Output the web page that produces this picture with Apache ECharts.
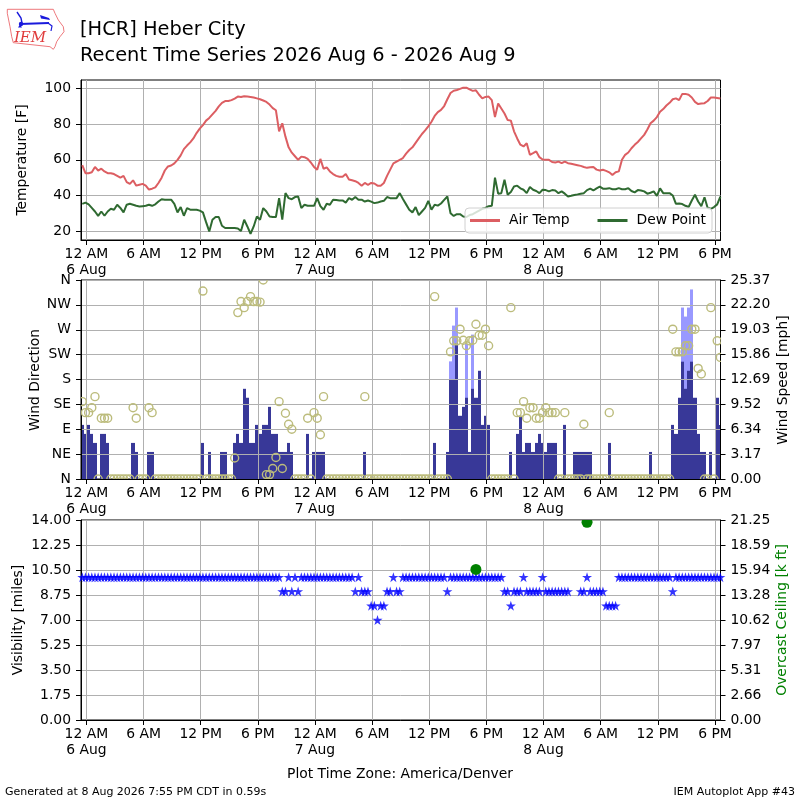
<!DOCTYPE html>
<html><head><meta charset="utf-8">
<script src="https://cdn.jsdelivr.net/npm/echarts@6.0.0/dist/echarts.min.js"></script>
<style>html,body{margin:0;padding:0;background:#fff}#c{width:800px;height:800px}</style>
</head><body><div id="c"></div>
<script>
// ---- observation timing (hours relative to 6 Aug 00:00 America/Denver), 20-minute reports ----
const OBS_START_H = -0.4333;
const OBS_STEP_H = 1/3;

const AIR_TEMP_F = [57,52.5,52.5,53,56,54,55,53.5,52.5,52.5,
52,51,50,51,47.5,46.5,48.5,45.5,46,46.5,
45.5,43.3,43.8,44.5,47,50,54,56.3,56.8,58,
60,62.5,66,68,69.8,72,75,77.5,79.5,82,
83.5,85.5,87.5,90,92,93,93,93.5,94.4,95.5,
95.3,95.7,95.5,95.3,95,94.5,94,93.3,92.5,91,
89,87.8,76,80.5,73,67,64,62,60,61.8,
61.5,60.5,58.5,56,54.5,60.5,55,55.8,53.5,52,
51,50.5,50.5,52,49,48.5,48,47,45.5,47,
46,47,46.7,45.5,45.5,47,51,54.5,58,59,
60,61,63.5,65.5,67,69.5,72,74.5,76.5,78.8,
81.4,84.6,86.8,88,90.2,94,97.5,98.8,99.2,99.8,
100.5,100.5,99.5,98.7,99,96.5,94.5,95.3,95.5,93.5,
84,91.6,88.8,86,82.3,82,76,72,68.5,67.5,
69.3,62.8,63.7,64.7,61.5,60.2,60,60,58.8,58.5,
59,58.1,59,58.1,57.8,57.4,57,56.6,56,55.5,
55.8,56,54.5,54,54.4,53.8,53,51.5,53,53.5,
60,62.8,64.1,66.5,68.4,70,72,74,77,80.5,
82,84,87,88.5,90.5,92,94,94.5,93.5,97,
97,96.5,95,92.5,91.3,91.6,91.8,93,95,95,
94.7,94.4];

const DEW_POINT_F = [35.3,36,35,33,31,28.5,31,28.6,31,32.5,
32,34.8,33,30.5,34.8,35.3,34.8,34.2,33.8,34,
34.2,34.8,34.2,35,36.6,37.9,37.6,37.6,37.6,35.3,
30.5,33.5,28.6,32.9,32,32,32,31.5,30.5,25,
19.8,26.4,27.9,27.9,23,21.7,21.7,21.7,21.7,21.5,
20,26.4,22.6,18.5,22.6,28.2,26.4,32.9,31,28.2,
27.9,27.9,38.5,26.4,41.3,38.5,37.9,39.1,39.4,32.9,
34.8,34.2,34.2,34.2,38.5,34,32,35.3,34.8,37.6,
37.4,37.2,37.2,36,38.5,37.6,39.1,37.6,37.6,36.6,
37.2,36.5,35.7,36,36.6,37,39.1,38.5,38.5,38.5,
41.3,38,35,32,30.5,33.5,29,31,33,37,
32,34.8,34.3,35.5,37.5,39.4,30,28.5,29.5,29.5,
28.2,27.9,29,29.5,30.5,31.5,32.5,33,34,34.2,
50,41,41.3,48.8,40.4,42,45,45.5,44,43.2,
41.3,44.7,43.2,42.5,41.3,43.2,43,42.3,43,42.8,
41.3,42.3,41,39.4,39.8,40.3,40.6,41,41.3,43,
43.8,42.8,44,45,43.8,43.8,44.1,43.5,43.5,44.1,
43.5,43.5,44.1,42.5,41.7,43,42.8,42.3,41,41.5,
42.3,39.8,44,41.3,41.3,41.3,40,35.3,35.5,35.2,
34.2,33.5,37.2,40.4,36.6,34,39,33,32.5,33.5,
35,39.4];

const WIND_MPH = [6.9,5.75,6.9,5.75,4.6,0,5.75,5.75,4.6,0,
0,0,0,0,0,0,4.6,3.45,0,0,
0,3.45,3.45,0,0,0,0,0,0,0,
0,0,0,0,0,0,0,0,4.6,0,
3.45,0,0,0,3.45,3.45,0,0,4.6,5.75,
4.6,11.5,10.36,4.6,4.6,6.9,5.75,6.9,6.9,9.2,
5.75,5.75,3.45,3.45,3.45,4.6,3.45,0,0,0,
0,5.75,0,3.45,3.45,3.45,3.45,0,0,0,
0,0,0,0,0,0,0,0,0,3.45,
0,0,0,0,0,0,0,0,0,0,
0,0,0,0,0,0,0,0,0,0,
0,4.6,0,0,0,3.45,12.66,12.66,17.26,8.06,
9.2,10.36,3.45,11.5,10.36,13.8,6.9,8.06,6.9,0,
0,0,0,0,0,3.45,0,5.75,8.06,3.45,
4.6,4.6,3.45,4.6,5.75,4.6,3.45,4.6,4.6,4.6,
0,0,6.9,0,0,3.45,3.45,3.45,3.45,3.45,
3.45,0,0,0,0,0,4.6,0,0,0,
0,0,0,0,0,0,0,0,0,3.45,
0,0,0,0,0,0,6.9,5.75,10.36,14.96,
11.5,13.8,14.96,10.36,5.75,3.45,3.45,0,3.45,0,
10.36,6.9];

const WIND_DIR_DEG = [140,120,120,129,149,0,110,110,110,0,
0,0,0,0,0,0,129,110,0,0,
0,129,120,0,0,0,0,0,0,0,
0,0,0,0,0,0,0,0,340,0,
0,0,0,0,0,0,0,0,38,301,
321,310,321,330,321,321,320,360,8,8,
19,39,140,19,119,99,90,0,0,0,
0,110,0,120,110,80,149,0,0,0,
0,0,0,0,0,0,0,0,0,149,
0,0,0,0,0,0,0,0,0,0,
0,0,0,0,0,0,0,0,0,0,
0,330,0,0,0,0,230,250,250,271,
251,241,250,251,280,260,260,271,241,0,
0,0,0,0,0,310,0,120,120,140,
110,129,129,110,110,120,129,120,120,120,
0,0,120,0,0,0,0,0,99,0,
0,0,0,0,0,0,120,0,0,0,
0,0,0,0,0,0,0,0,0,0,
0,0,0,0,0,0,271,230,230,230,
241,241,271,271,200,190,0,0,310,0,
250,220];

const GUST_IDX = [116,117,118,121,123,189,190,191,192];
const GUST_MPH = [15.0,19.56,21.86,17.26,18.41,21.86,20.71,21.86,24.17];

const VIS_MILES = [10,10,10,10,10,10,10,10,10,10,
10,10,10,10,10,10,10,10,10,10,
10,10,10,10,10,10,10,10,10,10,
10,10,10,10,10,10,10,10,10,10,
10,10,10,10,10,10,10,10,10,10,
10,10,10,10,10,10,10,10,10,10,
10,10,10,9,9,10,9,10,9,10,
10,10,10,10,10,10,10,10,10,10,
10,10,10,10,10,10,9,10,9,9,
9,8,8,7,8,8,9,9,10,9,
9,10,10,10,10,10,10,10,10,10,
10,10,10,10,10,9,10,10,10,10,
10,10,10,10,10,10,10,10,10,10,
10,10,10,9,9,8,9,9,9,10,
9,9,9,9,9,10,9,9,9,9,
9,9,9,9,null,null,null,9,9,10,
9,9,9,9,9,8,8,8,8,10,
10,10,10,10,10,10,10,10,10,10,
10,10,10,10,10,10,9,10,10,10,
10,10,10,10,10,10,10,10,10,10,
10,10];

const CEIL_IDX = [124,159];
const CEIL_KFT = [16.0,21.0];

// ---- axes ----
const X_MIN_H = -0.567, X_MAX_H = 66.58;
const X_TICKS_H = [0,6,12,18,24,30,36,42,48,54,60,66];
const X_TICK_LABELS = ['12 AM\n6 Aug','6 AM','12 PM','6 PM','12 AM\n7 Aug','6 AM','12 PM','6 PM','12 AM\n8 Aug','6 AM','12 PM','6 PM'];
const TEMP_TICKS = [20,40,60,80,100];
const TEMP_TICK_LABELS = ['20','40','60','80','100'];
const DIR_TICKS = [0,45,90,135,180,225,270,315,360];
const DIR_TICK_LABELS = ['N','NE','E','SE','S','SW','W','NW','N'];
const SPEED_MAX = 25.3744;
const SPEED_TICKS = [0,3.1718,6.3436,9.5154,12.6872,15.859,19.0308,22.2026,25.3744];
const SPEED_TICK_LABELS = ['0.00','3.17','6.34','9.52','12.69','15.86','19.03','22.20','25.37'];
const VIS_TICKS = [0,1.75,3.5,5.25,7,8.75,10.5,12.25,14];
const VIS_TICK_LABELS = ['0.00','1.75','3.50','5.25','7.00','8.75','10.50','12.25','14.00'];
const CEIL_MAX = 21.25;
const CEIL_TICKS = [0,2.65625,5.3125,7.96875,10.625,13.28125,15.9375,18.59375,21.25];
const CEIL_TICK_LABELS = ['0.00','2.66','5.31','7.97','10.62','13.28','15.94','18.59','21.25'];

const FONT = 'DejaVu Sans';
const OBS_TIMES_H = AIR_TEMP_F.map((_, k) => OBS_START_H + k * OBS_STEP_H);

function pickLabel(ticks, labels, v) {
  let best = 0, bd = Infinity;
  ticks.forEach((t, i) => { const d = Math.abs(t - v); if (d < bd) { bd = d; best = i; } });
  return labels[best];
}
function makeX(gi, z) {
  return {type:'value', gridIndex:gi, min:X_MIN_H, max:X_MAX_H, z:z,
    axisLine:{show:true, onZero:false, lineStyle:{color:'#000', width:1}},
    axisTick:{show:true, length:5, customValues:X_TICKS_H, lineStyle:{color:'#000', width:1}},
    axisLabel:{customValues:X_TICKS_H, formatter:v => pickLabel(X_TICKS_H, X_TICK_LABELS, v),
      color:'#000', fontSize:13.9, fontFamily:FONT, margin:7, lineHeight:15.5},
    splitLine:{show:true, lineStyle:{color:'#b0b0b0', width:1}}};
}
function makeY(gi, min, max, ticks, labels, pos, grid, z) {
  return {type:'value', gridIndex:gi, min:min, max:max, position:pos, z:z,
    axisLine:{show:true, onZero:false, lineStyle:{color:'#000', width:1}},
    axisTick:{show:true, length:5, customValues:ticks, lineStyle:{color:'#000', width:1}},
    axisLabel:{customValues:ticks, formatter:v => pickLabel(ticks, labels, v),
      color:'#000', fontSize:13.9, fontFamily:FONT, margin:10},
    splitLine:{show:grid, lineStyle:{color:'#b0b0b0', width:1}}};
}
const STAR = 'path://M0,-1L0.2245,-0.309L0.951,-0.309L0.363,0.118L0.588,0.809L0,0.382L-0.588,0.809L-0.363,0.118L-0.951,-0.309L-0.2245,-0.309Z';

// bars drawn through the axes' scales: one 20-minute-wide column per report, pixel-snapped
function barRenderer(color) {
  return (params, api) => {
    const t = api.value(0), v = api.value(1);
    if (!v) return null;
    const xl = Math.round(api.coord([t - OBS_STEP_H / 2, 0])[0]);
    const xr = Math.round(api.coord([t + OBS_STEP_H / 2, 0])[0]);
    const y0 = Math.round(api.coord([t, 0])[1]);
    const y1 = api.coord([t, v])[1];
    return {type:'rect', shape:{x:xl, y:y1, width:Math.max(1, xr - xl), height:y0 - y1},
      style:{fill:color, stroke:null}};
  };
}

function txt(x, y, text, size, opts) {
  opts = opts || {};
  return {type:'text', x:x, y:y, rotation:opts.rot || 0, z:10,
    style:{text:text, fontSize:size, fontFamily:opts.family || FONT, fontStyle:opts.style || 'normal',
      fill:opts.color || '#000', textAlign:opts.align || 'left', textVerticalAlign:'middle',
      align:opts.align || 'left', verticalAlign:'middle'}};
}

const gridBase = {left:81, width:639.5, show:true, borderColor:'#000', borderWidth:1, outerBoundsMode:'none', containLabel:false};

const option = {
  animation:false,
  backgroundColor:'#fff',
  textStyle:{fontFamily:FONT},
  grid:[
    Object.assign({top:80, height:160}, gridBase),
    Object.assign({top:280, height:199}, gridBase),
    Object.assign({top:520, height:200}, gridBase)
  ],
  legend:{data:['Air Temp','Dew Point'], left:465, top:208, orient:'horizontal', icon:'rect',
    itemWidth:30, itemHeight:3, itemGap:28, padding:[5.5,6,5.5,5],
    backgroundColor:'rgba(255,255,255,0.8)', borderColor:'#d0d0d0', borderWidth:1, borderRadius:4,
    textStyle:{fontSize:13.9, fontFamily:FONT, color:'#000', padding:[0,0,0,4]}},
  xAxis:[makeX(0,0), makeX(1,3), makeX(2,0)],
  yAxis:[
    makeY(0, 15, 104.8, TEMP_TICKS, TEMP_TICK_LABELS, 'left', true, 0),
    makeY(1, 0, 360, DIR_TICKS, DIR_TICK_LABELS, 'left', true, 3),
    makeY(1, 0, SPEED_MAX, SPEED_TICKS, SPEED_TICK_LABELS, 'right', false, 3),
    makeY(2, 0, 14, VIS_TICKS, VIS_TICK_LABELS, 'left', true, 0),
    makeY(2, 0, CEIL_MAX, CEIL_TICKS, CEIL_TICK_LABELS, 'right', false, 0)
  ],
  series:[
    {type:'line', name:'Air Temp', xAxisIndex:0, yAxisIndex:0, showSymbol:false, symbol:'none',
      color:'#dc5e62', lineStyle:{color:'#dc5e62', width:2},
      data:OBS_TIMES_H.map((t,k) => [t, AIR_TEMP_F[k]])},
    {type:'line', name:'Dew Point', xAxisIndex:0, yAxisIndex:0, showSymbol:false, symbol:'none',
      color:'#2f6a31', lineStyle:{color:'#2f6a31', width:2},
      data:OBS_TIMES_H.map((t,k) => [t, DEW_POINT_F[k]])},
    {type:'custom', name:'Gust', xAxisIndex:1, yAxisIndex:2, clip:true, z:2,
      encode:{x:0, y:1}, renderItem:barRenderer('#9999ff'),
      data:GUST_IDX.map((k,i) => [OBS_TIMES_H[k], GUST_MPH[i]])},
    {type:'custom', name:'Wind Speed', xAxisIndex:1, yAxisIndex:2, clip:true, z:2,
      encode:{x:0, y:1}, renderItem:barRenderer('#383898'),
      data:OBS_TIMES_H.map((t,k) => [t, WIND_MPH[k]])},
    {type:'custom', name:'Wind Direction', xAxisIndex:1, yAxisIndex:1, clip:true, z:5,
      encode:{x:0, y:1},
      data:OBS_TIMES_H.map((t,k) => [t, WIND_DIR_DEG[k]]),
      renderItem:(params, api) => {
        const p = api.coord([api.value(0), api.value(1)]);
        return {type:'circle', shape:{cx:p[0], cy:p[1], r:4},
          style:{fill:'none', stroke:'#bcbc7c', lineWidth:1.4}};
      }},
    {type:'scatter', name:'Visibility', xAxisIndex:2, yAxisIndex:3, symbol:STAR, symbolSize:10,
      itemStyle:{color:'#0000ff'},
      data:OBS_TIMES_H.map((t,k) => [t, VIS_MILES[k]]).filter(d => d[1] !== null)},
    {type:'custom', name:'Overcast Ceiling', xAxisIndex:2, yAxisIndex:4, clip:true, z:4,
      encode:{x:0, y:1},
      data:CEIL_IDX.map((k,i) => [OBS_TIMES_H[k], CEIL_KFT[i]]),
      renderItem:(params, api) => {
        const p = api.coord([api.value(0), api.value(1)]);
        return {type:'circle', shape:{cx:p[0], cy:p[1], r:5.5}, style:{fill:'#008000'}};
      }}
  ],
  graphic:[
    // IEM logo
    {type:'group', z:10, children:[
      {type:'polygon', shape:{points:[[7.3,9.3],[53.3,9.3],[55,13.3],[58.3,20],[63.3,26.7],[64,31.7],[60,36.7],[56.7,41.7],[55,46.7],[53.3,49.3],[50,46.7],[13.3,42.7],[11.7,36.7],[10,26.7],[7.3,13.3]]},
        style:{fill:'none', stroke:'#e8555a', lineWidth:0.8}},
      {type:'polyline', shape:{points:[[17,12],[21,18],[22,23]]}, style:{stroke:'#1a1adc', lineWidth:1.4, fill:null}},
      {type:'line', shape:{x1:20, y1:24, x2:49, y2:23}, style:{stroke:'#1a1adc', lineWidth:2}},
      {type:'circle', shape:{cx:21, cy:24, r:2.2}, style:{fill:'#1a1adc'}},
      {type:'polygon', shape:{points:[[40,15],[49,18],[50,20],[41,18.5]]}, style:{fill:'#1a1adc'}},
      {type:'polyline', shape:{points:[[48,23],[52,26],[51,31]]}, style:{stroke:'#1a1adc', lineWidth:1.2, fill:null}},
      {type:'polygon', shape:{points:[[18,27.5],[20,24.5],[22,27.5]]}, style:{fill:'#1a1adc'}}
    ]},
    txt(30, 38, 'IEM', 15, {family:'DejaVu Serif', style:'italic', color:'#e03c3c', align:'center'}),
    // titles
    txt(80, 29.7, '[HCR] Heber City', 19.4),
    txt(80, 56.3, 'Recent Time Series 2026 Aug 6 - 2026 Aug 9', 19.4),
    // axis titles
    txt(22, 160, 'Temperature [F]', 13.9, {rot:Math.PI/2, align:'center'}),
    txt(35, 380, 'Wind Direction', 13.9, {rot:Math.PI/2, align:'center'}),
    txt(783, 380, 'Wind Speed [mph]', 13.9, {rot:Math.PI/2, align:'center'}),
    txt(18, 620, 'Visibility [miles]', 13.9, {rot:Math.PI/2, align:'center'}),
    txt(782, 620, 'Overcast Ceiling [k ft]', 13.9, {rot:Math.PI/2, align:'center', color:'#008000'}),
    txt(400, 774, 'Plot Time Zone: America/Denver', 13.9, {align:'center'}),
    // footer
    txt(5, 792, 'Generated at 8 Aug 2026 7:55 PM CDT in 0.59s', 11),
    txt(795, 792, 'IEM Autoplot App #43', 11, {align:'right'})
  ]
};

const chart = echarts.init(document.getElementById('c'), null, {renderer:'canvas'});
chart.setOption(option);
</script>
</body></html>
